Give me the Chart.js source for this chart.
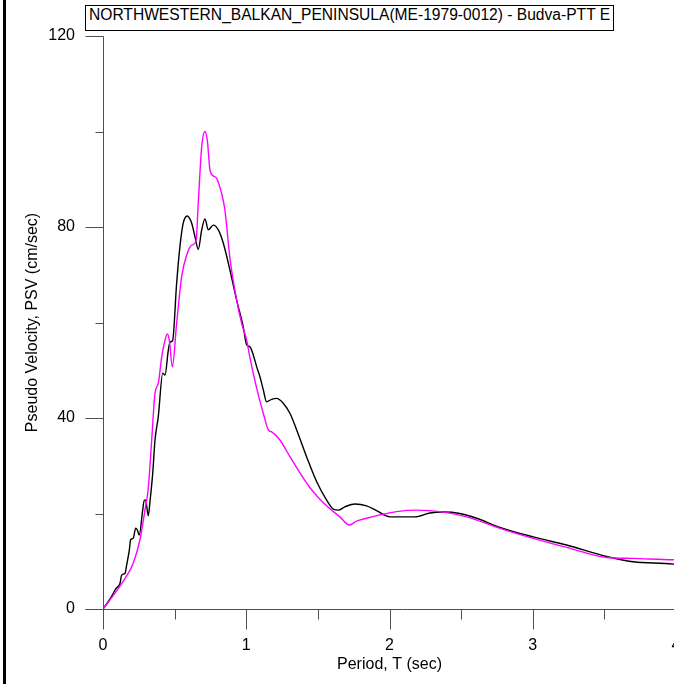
<!DOCTYPE html>
<html>
<head>
<meta charset="utf-8">
<script src="https://cdn.jsdelivr.net/npm/chart.js@4.4.1/dist/chart.umd.min.js"></script>
<style>
  html, body { margin: 0; padding: 0; background: #fff; overflow: hidden; }
  #wrap { position: relative; width: 720px; height: 684px; }
  #frame { position: absolute; left: 3px; top: 0; width: 3px; height: 684px; background: #000; }
  #title {
    position: absolute; left: 85px; top: 5px; height: 24px; line-height: 24px;
    padding: 0 3px; border: 1px solid #000; background: #fff;
    font: 15.6px "Liberation Sans", Arial, sans-serif; white-space: nowrap; color: #000;
  }
</style>
</head>
<body>
<div id="wrap">
  <canvas id="psvChart" width="720" height="684"></canvas>
  <div id="frame"></div>
  <div id="title">NORTHWESTERN_BALKAN_PENINSULA(ME-1979-0012) - Budva-PTT E</div>
</div>
<script>
(() => {
    'use strict';

    // Perioden und PSV-Werte
    const blackPeriods = [0, 0.049, 0.091, 0.119, 0.130, 0.154, 0.165, 0.184, 0.193, 0.211, 0.228, 0.239, 0.253,
        0.277, 0.288, 0.298, 0.316, 0.328, 0.347, 0.363, 0.386, 0.417, 0.433, 0.456, 0.468, 0.486, 0.514,
        0.537, 0.560, 0.588, 0.619, 0.642, 0.665, 0.689, 0.712, 0.735, 0.770, 0.805, 0.840, 0.886, 0.933,
        0.979, 1.003, 1.026, 1.049, 1.073, 1.096, 1.119, 1.142, 1.177, 1.212, 1.258, 1.305, 1.352, 1.421,
        1.491, 1.561, 1.607, 1.642, 1.689, 1.759, 1.840, 1.910, 2.003, 2.177, 2.282, 2.375, 2.491, 2.608,
        2.770, 3.003, 3.236, 3.515, 3.701, 3.980, 4.0];
    const blackPSV = [0, 2.1, 4.3, 5.4, 7.1, 7.5, 9.2, 12.4, 14.5, 14.8, 16.9, 16.6, 15.5,
        20.7, 22.8, 22.8, 19.5, 22.5, 28.4, 35.4, 40.3, 49.4, 49.0, 54.2, 55.9, 56.2, 68.2,
        75.9, 80.8, 82.3, 80.8, 78.0, 75.3, 79.4, 81.7, 79.4, 80.4, 79.4, 76.6, 71.0, 64.7,
        59.1, 55.3, 54.9, 53.2, 50.7, 48.6, 45.9, 43.4, 43.9, 44.1, 43.1, 41.0, 37.5, 31.9,
        26.7, 22.8, 20.9, 20.7, 21.4, 22.0, 21.6, 20.6, 19.3, 19.3, 20.1, 20.3, 20.0, 19.0,
        17.1, 15.1, 13.4, 11.0, 9.9, 9.4, 9.3];

    const pinkPeriods = [0, 0.049, 0.154, 0.211, 0.258, 0.293, 0.316, 0.340, 0.363, 0.386, 0.410, 0.433,
        0.449, 0.463, 0.484, 0.514, 0.549, 0.584, 0.619, 0.649, 0.665, 0.689, 0.712, 0.728, 0.747,
        0.770, 0.793, 0.828, 0.851, 0.886, 0.933, 0.968, 1.003, 1.026, 1.073, 1.119, 1.154, 1.177,
        1.235, 1.305, 1.375, 1.445, 1.514, 1.584, 1.654, 1.719, 1.770, 1.840, 1.933, 2.050, 2.189,
        2.282, 2.375, 2.538, 2.770, 3.003, 3.236, 3.515, 3.701, 3.980, 4.0];
    const pinkPSV = [0, 1.9, 6.4, 9.6, 14.5, 20.7, 25.3, 35.4, 45.2, 47.3, 52.8, 56.3,
        57.6, 56.3, 50.7, 59.8, 69.6, 74.1, 76.2, 76.9, 85.0, 96.8, 100.0, 98.2, 91.9,
        90.7, 90.2, 87.0, 83.6, 73.5, 64.7, 59.8, 56.3, 52.6, 46.2, 41.0, 37.5, 37.1,
        35.4, 31.9, 28.5, 25.4, 23.0, 21.0, 19.3, 17.6, 18.4, 19.0, 19.7, 20.4, 20.7,
        20.6, 20.3, 19.3, 16.9, 14.8, 12.9, 10.8, 10.6, 10.3, 10.3];

    const xTicksMajor = [0, 1, 2, 3, 4];
    const yTicksMajor = [0, 40, 80, 120];

    const toPoints = (xs, ys) => xs.map((x, i) => ({ x: x, y: ys[i] }));

    // Achsenlinien und Tickmarken (lang/kurz) selbst zeichnen
    const axisDecor = {
        id: 'axisDecor',
        afterDraw(chart) {
            const { ctx, scales: { x, y } } = chart;
            const x0 = Math.round(x.getPixelForValue(0)) + 0.5;
            const y0 = Math.round(y.getPixelForValue(0)) + 0.5;
            ctx.save();
            ctx.strokeStyle = '#505050';
            ctx.lineWidth = 1;
            ctx.beginPath();
            ctx.moveTo(x0, Math.round(y.getPixelForValue(120)) + 0.5);
            ctx.lineTo(x0, y0);
            ctx.moveTo(x0 - 18, y0);
            ctx.lineTo(chart.width, y0);
            y.ticks.forEach(t => {
                const py = Math.round(y.getPixelForValue(t.value)) + 0.5;
                const len = yTicksMajor.includes(t.value) ? 18 : 8;
                ctx.moveTo(x0 - len, py);
                ctx.lineTo(x0, py);
            });
            x.ticks.forEach(t => {
                const px = Math.round(x.getPixelForValue(t.value)) + 0.5;
                const len = xTicksMajor.includes(t.value) ? 20 : 10;
                ctx.moveTo(px, y0);
                ctx.lineTo(px, y0 + len);
            });
            ctx.stroke();
            ctx.restore();
        }
    };

    Chart.defaults.font.family = '"Liberation Sans", Arial, sans-serif';
    Chart.defaults.font.size = 16;
    Chart.defaults.color = '#000';

    new Chart(document.getElementById('psvChart'), {
        type: 'line',
        data: {
            datasets: [{
                label: 'Budva-PTT E (1)',
                data: toPoints(blackPeriods, blackPSV),
                borderColor: '#000000',
                borderWidth: 1.4,
                pointRadius: 0,
                cubicInterpolationMode: 'monotone',
                order: 2
            }, {
                label: 'Budva-PTT E (2)',
                data: toPoints(pinkPeriods, pinkPSV),
                borderColor: '#ff00ff',
                borderWidth: 1.4,
                pointRadius: 0,
                cubicInterpolationMode: 'monotone',
                order: 1
            }]
        },
        options: {
            responsive: false,
            animation: false,
            layout: { padding: { left: 0, top: 36, right: 44, bottom: 0 } },
            scales: {
                x: {
                    type: 'linear',
                    min: 0,
                    max: 4,
                    afterFit: scale => { scale.height = 75; },
                    border: { display: false },
                    grid: { display: true, drawOnChartArea: false, tickLength: 20, tickColor: 'rgba(0,0,0,0)' },
                    ticks: {
                        stepSize: 0.5,
                        padding: 7,
                        maxRotation: 0,
                        autoSkip: false,
                        callback: v => xTicksMajor.includes(v) ? String(v) : ''
                    },
                    title: { display: true, text: 'Period, T (sec)', padding: { top: 0, bottom: 10 } }
                },
                y: {
                    min: 0,
                    max: 120,
                    afterFit: scale => { scale.width = 103; },
                    border: { display: false },
                    grid: { display: true, drawOnChartArea: false, tickLength: 18, tickColor: 'rgba(0,0,0,0)' },
                    ticks: {
                        stepSize: 20,
                        padding: 10,
                        autoSkip: false,
                        callback: v => yTicksMajor.includes(v) ? String(v) : ''
                    },
                    title: { display: true, text: 'Pseudo Velocity, PSV (cm/sec)', padding: { top: 23, bottom: 0 } }
                }
            },
            plugins: {
                legend: { display: false },
                tooltip: { enabled: false }
            }
        },
        plugins: [axisDecor]
    });
})();
</script>
</body>
</html>
